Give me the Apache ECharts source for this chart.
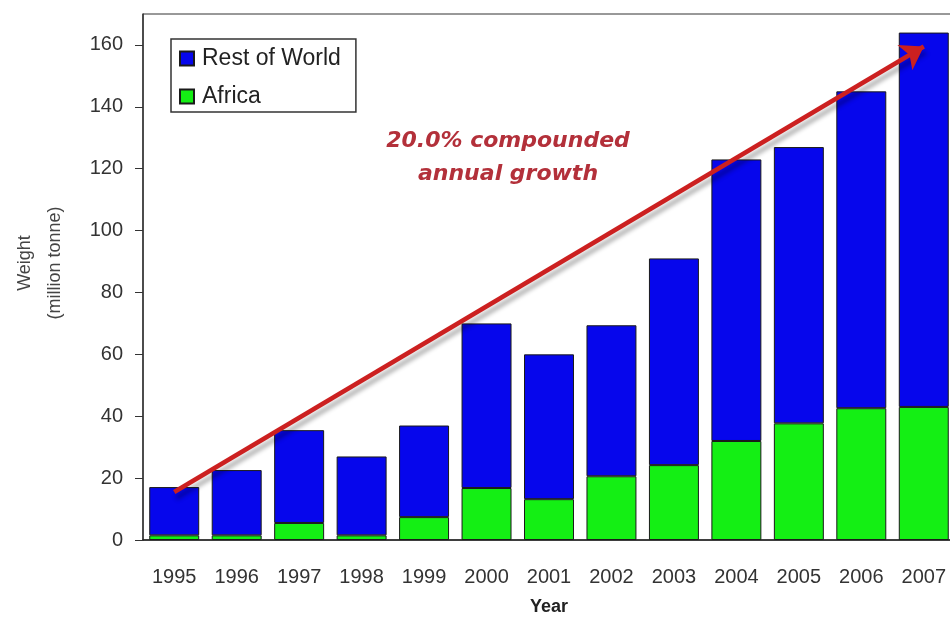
<!DOCTYPE html>
<html>
<head>
<meta charset="utf-8">
<script src="https://cdn.jsdelivr.net/npm/echarts@6/dist/echarts.min.js"></script>
<style>
  html, body { margin: 0; padding: 0; background: #fff; }
  #chart { width: 950px; height: 618px; }
</style>
</head>
<body>
<div id="chart"></div>
<script>
var years = ['1995','1996','1997','1998','1999','2000','2001','2002','2003','2004','2005','2006','2007'];
var africa = [1.5, 1.5, 5.5, 1.5, 7.4, 16.8, 13.2, 20.6, 24.2, 32, 37.7, 42.6, 43];
var restOfWorld = [15.6, 21.1, 30, 25.5, 29.6, 53.2, 46.8, 48.8, 66.8, 91, 89.3, 102.4, 121];
var yTicks = [0, 20, 40, 60, 80, 100, 120, 140, 160];
// trend arrow, start and end in data units
var trendStart = ['1995', 15.5];
var trendEnd = ['2007', 159.5];

var chart = echarts.init(document.getElementById('chart'));
var font = 'Liberation Sans, Arial, sans-serif';

var option = {
  animation: false,
  grid: {
    left: 143, top: 14, right: -5, bottom: 78,
    outerBoundsMode: 'none',
    containLabel: false,
    show: true, borderColor: '#333', borderWidth: 1
  },
  legend: {
    orient: 'vertical',
    left: 171, top: 39,
    padding: [8, 15, 4, 8],
    itemGap: 15,
    itemWidth: 14, itemHeight: 14,
    icon: 'rect',
    borderColor: '#333', borderWidth: 1.5,
    textStyle: { fontFamily: font, fontSize: 23, color: '#222', padding: [0, 0, 0, 3] },
    data: ['Rest of World', 'Africa']
  },
  xAxis: {
    type: 'category',
    data: years,
    name: 'Year',
    nameLocation: 'middle',
    nameGap: 58,
    nameTextStyle: { fontFamily: font, fontSize: 18, fontWeight: 'bold', color: '#222' },
    axisLine: { lineStyle: { color: '#222', width: 1.5 } },
    axisTick: { length: 5, lineStyle: { color: '#333' } },
    axisLabel: { margin: 27, fontFamily: font, fontSize: 20, color: '#333' }
  },
  yAxis: {
    type: 'value',
    min: 0, max: 170,
    name: 'Weight\n(million tonne)',
    nameLocation: 'middle',
    nameGap: 73,
    nameRotate: 90,
    nameTextStyle: { fontFamily: font, fontSize: 18, color: '#444', lineHeight: 30, padding: [0, 0, 0, 28] },
    axisLine: { show: true, lineStyle: { color: '#333', width: 1.5 } },
    axisTick: { show: true, length: 8, customValues: yTicks, lineStyle: { color: '#333' } },
    axisLabel: { margin: 20, customValues: yTicks, fontFamily: font, fontSize: 20, color: '#333' },
    splitLine: { show: false }
  },
  series: [
    {
      name: 'Africa',
      type: 'bar',
      stack: 'total',
      barCategoryGap: '20%',
      data: africa,
      itemStyle: { color: '#14ef14', borderColor: '#1a1a1a', borderWidth: 1 },
      markLine: {
        silent: true,
        symbol: ['none', 'arrow'],
        symbolSize: 22,
        label: { show: false },
        lineStyle: {
          color: '#cc2020', width: 4.5, type: 'solid',
          shadowColor: 'rgba(0,0,0,0.3)', shadowBlur: 4, shadowOffsetX: 2, shadowOffsetY: 6
        },
        data: [[{ coord: trendStart }, { coord: trendEnd }]]
      }
    },
    {
      name: 'Rest of World',
      type: 'bar',
      stack: 'total',
      barCategoryGap: '20%',
      data: restOfWorld,
      itemStyle: { color: '#0606ec', borderColor: '#1a1a1a', borderWidth: 1 }
    }
  ],
  graphic: [
    {
      type: 'text',
      x: 508, y: 125,
      z: 100,
      style: {
        text: '20.0% compounded\nannual growth',
        align: 'center',
        fontFamily: 'DejaVu Sans, Verdana, sans-serif',
        fontSize: 22,
        fontWeight: 'bold',
        fontStyle: 'italic',
        lineHeight: 33,
        fill: '#b3303a'
      }
    }
  ]
};

chart.setOption(option);
</script>
</body>
</html>
